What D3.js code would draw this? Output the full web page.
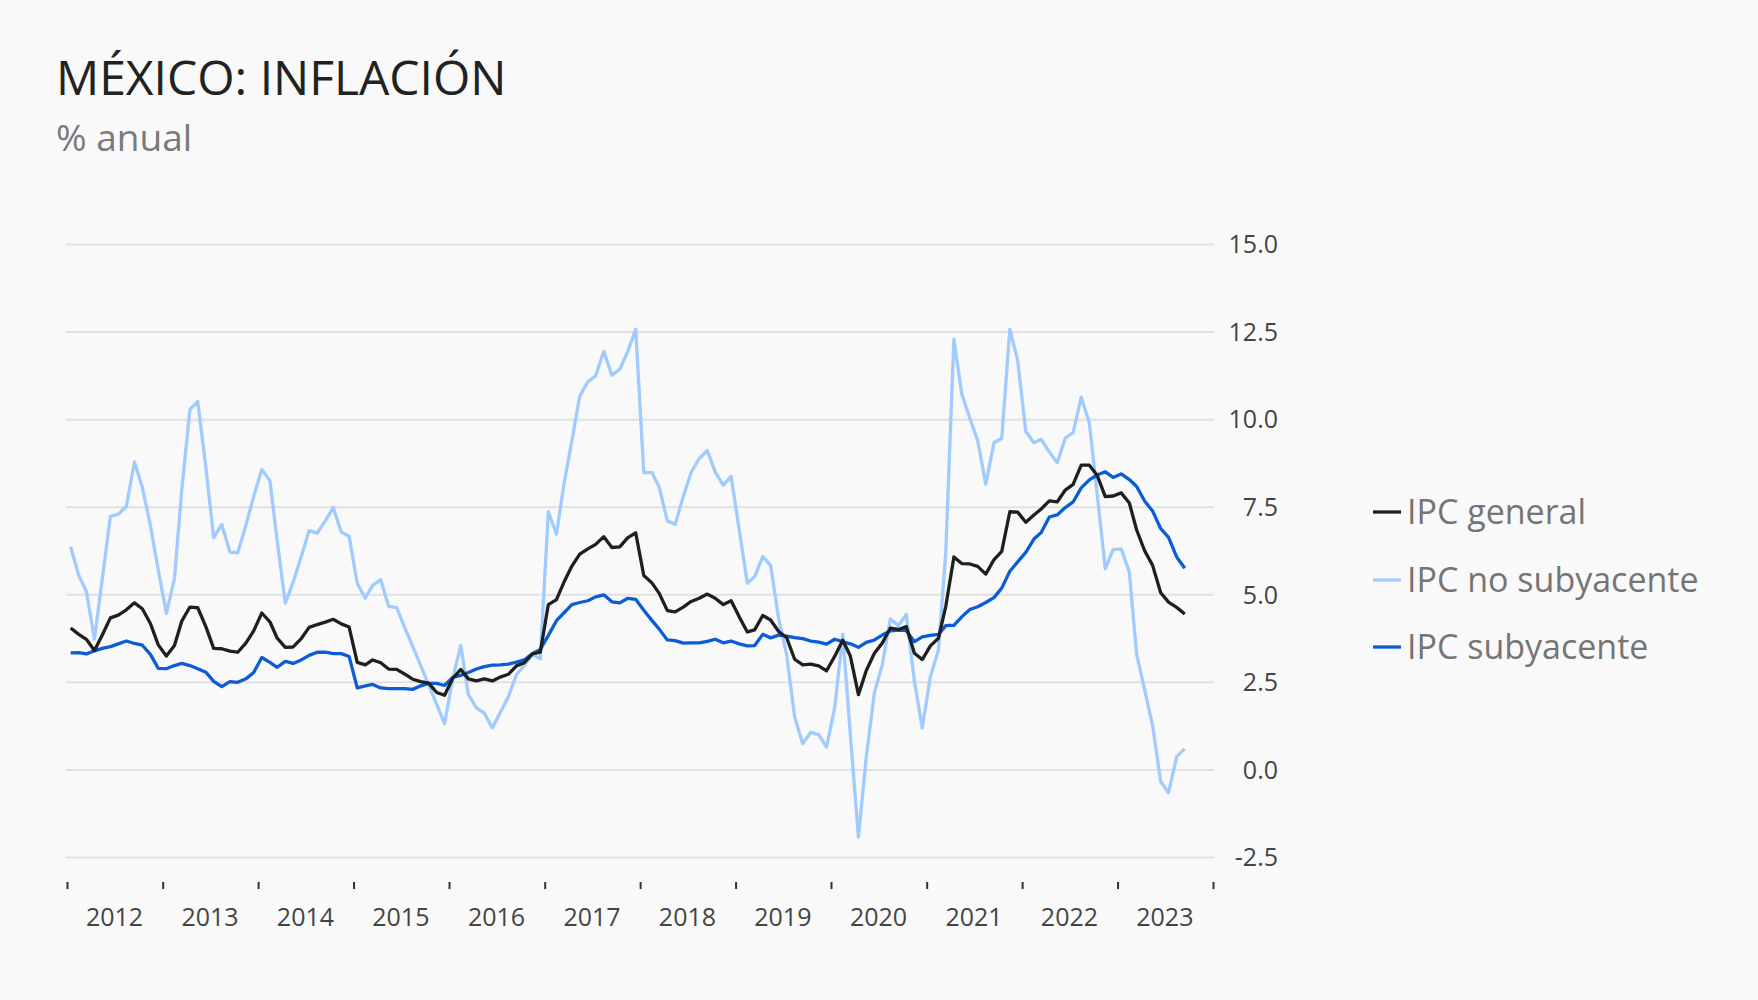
<!DOCTYPE html>
<html><head><meta charset="utf-8">
<script src="https://cdn.jsdelivr.net/npm/d3@7"></script>
<style>
html,body{margin:0;padding:0;background:#f9f9f9;}
svg{display:block;font-family:"Open Sans",sans-serif;}
</style>
</head><body>
<svg id="chart" width="1758" height="1000"></svg>
<script>
// ---- data ----
const startYear = 2012;
const yearLabels = ["2012","2013","2014","2015","2016","2017","2018","2019","2020","2021","2022","2023"];
const yTicks = [-2.5, 0, 2.5, 5, 7.5, 10, 12.5, 15];
const seriesNames = ["IPC general", "IPC no subyacente", "IPC subyacente"];

const ipcGeneral = [
  4.05,3.87,3.73,3.41,3.85,4.34,4.42,4.57,4.77,4.60,4.18,3.57,
  3.25,3.55,4.25,4.65,4.63,4.09,3.47,3.46,3.39,3.36,3.62,3.97,
  4.48,4.23,3.76,3.50,3.51,3.75,4.07,4.15,4.22,4.30,4.17,4.08,
  3.07,3.00,3.14,3.06,2.88,2.87,2.74,2.59,2.52,2.48,2.21,2.13,
  2.61,2.87,2.60,2.54,2.60,2.54,2.65,2.73,2.97,3.06,3.31,3.36,
  4.72,4.86,5.35,5.82,6.16,6.31,6.44,6.66,6.35,6.37,6.63,6.77,
  5.55,5.34,5.04,4.55,4.51,4.65,4.81,4.90,5.02,4.90,4.72,4.83,
  4.37,3.94,4.00,4.41,4.28,3.95,3.78,3.16,3.00,3.02,2.97,2.83,
  3.24,3.70,3.25,2.15,2.84,3.33,3.62,4.05,4.01,4.09,3.33,3.15,
  3.54,3.76,4.67,6.08,5.89,5.88,5.81,5.59,6.00,6.24,7.37,7.36,
  7.07,7.28,7.45,7.68,7.65,7.99,8.15,8.70,8.70,8.41,7.80,7.82,
  7.91,7.62,6.85,6.25,5.84,5.06,4.79,4.64,4.45
];
const ipcNoSubyacente = [
  6.37,5.55,5.10,3.74,5.46,7.24,7.30,7.52,8.79,8.07,6.98,5.71,
  4.47,5.46,8.00,10.29,10.52,8.64,6.63,7.01,6.22,6.20,6.98,7.81,
  8.58,8.26,6.54,4.76,5.36,6.09,6.83,6.76,7.11,7.49,6.79,6.67,
  5.33,4.91,5.27,5.43,4.67,4.63,4.08,3.53,2.98,2.43,1.87,1.32,
  2.60,3.55,2.15,1.77,1.62,1.20,1.64,2.09,2.72,2.98,3.30,3.17,
  7.37,6.73,8.13,9.40,10.67,11.08,11.25,11.95,11.27,11.44,11.95,12.58,
  8.49,8.49,8.07,7.11,7.01,7.81,8.49,8.89,9.12,8.51,8.13,8.38,
  6.86,5.33,5.52,6.09,5.84,4.31,3.30,1.51,0.75,1.07,1.01,0.65,
  1.77,3.87,1.01,-1.92,0.38,2.21,3.00,4.31,4.12,4.44,2.53,1.20,
  2.66,3.42,6.22,12.30,10.74,10.04,9.40,8.16,9.34,9.47,12.58,11.69,
  9.66,9.34,9.44,9.08,8.77,9.47,9.63,10.64,9.91,7.88,5.74,6.29,
  6.31,5.65,3.30,2.28,1.26,-0.33,-0.65,0.38,0.60
];
const ipcSubyacente = [
  3.34,3.35,3.31,3.40,3.47,3.52,3.60,3.68,3.61,3.56,3.30,2.90,
  2.89,2.98,3.04,2.98,2.89,2.79,2.53,2.38,2.52,2.50,2.60,2.78,
  3.21,3.07,2.93,3.10,3.04,3.14,3.27,3.36,3.36,3.32,3.32,3.24,
  2.34,2.40,2.44,2.34,2.32,2.32,2.32,2.30,2.40,2.47,2.47,2.41,
  2.64,2.70,2.78,2.88,2.95,2.99,3.00,3.02,3.08,3.14,3.32,3.44,
  3.84,4.26,4.48,4.72,4.78,4.83,4.94,5.00,4.80,4.77,4.90,4.87,
  4.56,4.27,4.02,3.71,3.69,3.62,3.63,3.63,3.67,3.73,3.63,3.68,
  3.60,3.54,3.55,3.87,3.77,3.85,3.82,3.78,3.75,3.68,3.65,3.59,
  3.73,3.66,3.60,3.50,3.64,3.71,3.85,3.97,3.99,3.98,3.66,3.80,
  3.84,3.87,4.12,4.13,4.37,4.58,4.66,4.78,4.92,5.19,5.67,5.94,
  6.21,6.59,6.78,7.22,7.28,7.49,7.65,8.05,8.28,8.42,8.51,8.35,
  8.45,8.29,8.09,7.67,7.39,6.89,6.64,6.08,5.76
];

// ---- styles ----
const colors = {"IPC general":"#1f1f1f","IPC no subyacente":"#9fcbff","IPC subyacente":"#0b5cd5"};
const seriesData = {"IPC general":ipcGeneral,"IPC no subyacente":ipcNoSubyacente,"IPC subyacente":ipcSubyacente};

const svg = d3.select("#chart");
svg.append("rect").attr("width",1758).attr("height",1000).attr("fill","#f9f9f9");

// title
svg.append("text").attr("x",56).attr("y",95)
  .attr("font-size",48).attr("fill","#222").text("MÉXICO: INFLACIÓN");
svg.append("text").attr("x",56).attr("y",151)
  .attr("font-size",37).attr("fill","#7a7a7a").text("% anual");

const x = d3.scaleTime()
  .domain([new Date(startYear,0,1), new Date(startYear + yearLabels.length,0,1)])
  .range([67,1213]);
const y = d3.scaleLinear().domain([-2.5,15]).range([857.5,244.5]);

// grid
const grid = svg.append("g");
grid.selectAll("line").data(yTicks).join("line")
  .attr("x1",66).attr("x2",1214)
  .attr("y1",d=>y(d)).attr("y2",d=>y(d))
  .attr("stroke","#e1e1e1").attr("stroke-width",2);

// y labels
svg.append("g").selectAll("text").data(yTicks).join("text")
  .attr("x",1278).attr("y",d=>y(d)).attr("dy","0.35em")
  .attr("text-anchor","end").attr("font-size",25).attr("fill","#444")
  .text(d=>d.toFixed(1));

// x axis ticks
const xAxis = d3.axisBottom(x).ticks(d3.timeYear.every(1)).tickSize(7).tickFormat("");
const gx = svg.append("g").attr("transform","translate(0,882)").call(xAxis);
gx.select(".domain").remove();
gx.selectAll(".tick line").attr("stroke","#333").attr("stroke-width",2);

// year labels
svg.append("g").selectAll("text").data(yearLabels).join("text")
  .attr("x",d=>x(new Date(+d,6,1)))
  .attr("y",926).attr("text-anchor","middle")
  .attr("font-size",25).attr("fill","#444").text(d=>d);

// lines
const line = d3.line()
  .x((d,i)=>x(new Date(startYear, i, 15)))
  .y(d=>y(d));
const drawOrder = ["IPC no subyacente","IPC subyacente","IPC general"];
svg.append("g").selectAll("path").data(drawOrder).join("path")
  .attr("d",k=>line(seriesData[k]))
  .attr("fill","none").attr("stroke",k=>colors[k])
  .attr("stroke-width",3.3).attr("stroke-linejoin","round");

// legend
const legY = [512,580,647];
const leg = svg.append("g").selectAll("g").data(seriesNames).join("g")
  .attr("transform",(d,i)=>`translate(1373,${legY[i]})`);
leg.append("line").attr("x1",0).attr("x2",28).attr("y1",0).attr("y2",0)
  .attr("stroke",d=>colors[d]).attr("stroke-width",3.3);
leg.append("text").attr("x",34).attr("dy","0.35em")
  .attr("font-size",34).attr("fill","#757575").text(d=>d);
</script>
</body></html>
